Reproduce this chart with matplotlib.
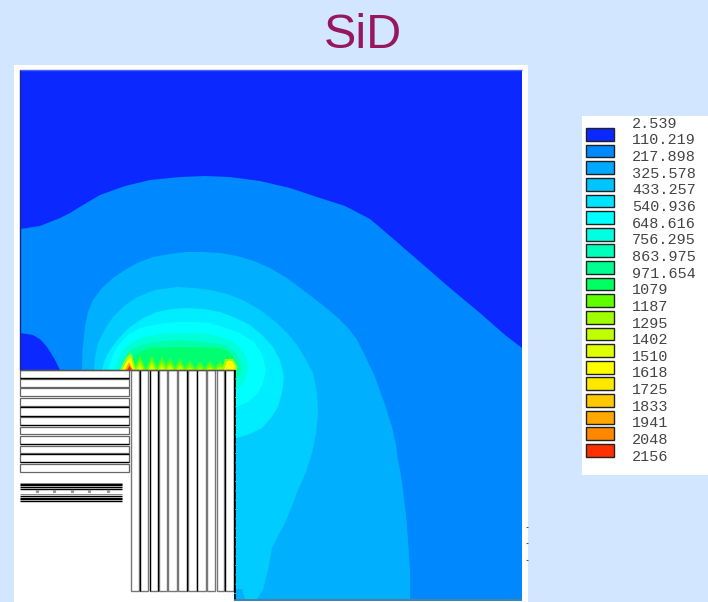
import matplotlib
matplotlib.use("Agg")
import matplotlib.pyplot as plt
from matplotlib.patches import Rectangle

levels = ["2.539", "110.219", "217.898", "325.578", "433.257", "540.936", "648.616",
          "756.295", "863.975", "971.654", "1079", "1187", "1295", "1402", "1510",
          "1618", "1725", "1833", "1941", "2048", "2156"]
level_colors = ["#0a28ff", "#0088ff", "#00a8ff", "#00c4ff", "#00e4ff", "#00ffff", "#00ffe0",
                "#00ffb8", "#00ff90", "#00ff60", "#60ff00", "#a0ff00", "#c0ff00", "#e0ff00",
                "#ffff00", "#ffe800", "#ffc800", "#ffa800", "#ff8800", "#ff3000"]

contour_1 = [(20, 229), (40, 226), (60, 218), (70, 213), (83, 205), (100, 195), (125, 186),
             (150, 180), (180, 177), (205, 176), (230, 177), (260, 181), (290, 188), (320, 198),
             (345, 206), (370, 219), (390, 236), (420, 262), (450, 288), (480, 313), (505, 335),
             (522, 348), (522, 599), (20, 599)]
lobe = [(20, 333), (33, 335), (41, 340), (47, 347), (54, 358), (60, 370), (20, 370)]
contour_2 = [(82, 370), (82.5, 350), (85, 327), (88, 312), (93, 300), (102, 288), (113, 278),
             (125, 270), (137, 263), (153, 257), (170, 254), (187, 252), (203, 252), (220, 253),
             (237, 256), (254, 261), (270, 268), (287, 278), (303, 290), (320, 303), (337, 317),
             (348, 328), (357, 340), (366, 358), (375, 377), (384, 402), (392, 427), (396, 445),
             (398, 460), (401, 475), (403, 490), (406, 515), (408, 540), (410, 570), (410, 599),
             (82, 599)]
contour_3 = [(94, 370), (95, 357), (98, 343), (105, 329), (113, 317), (124, 306), (137, 297),
             (155, 290), (177, 287), (194, 288), (210, 290), (227, 294), (243, 300), (260, 310),
             (277, 323), (288, 334), (297, 345), (305, 358), (313, 373), (317, 393), (318, 413),
             (316, 433), (312, 453), (306, 472), (298, 490), (292, 506), (285, 523), (278, 536),
             (272, 548), (268, 570), (263, 590), (257, 599), (245, 599), (242, 589), (234, 589),
             (94, 589)]
contour_4 = [(102, 370), (105, 359), (110, 350), (119, 338), (130, 327), (143, 318), (157, 312),
             (172, 309), (187, 308), (204, 309), (220, 312), (236, 318), (250, 325), (262, 335),
             (273, 347), (280, 360), (284, 377), (282, 393), (278, 407), (271, 418), (262, 428),
             (250, 434), (234, 439), (102, 439)]
contour_5 = [(108, 370), (112, 357), (117, 347), (127, 336), (140, 328), (158, 324), (177, 322),
             (194, 322), (210, 323), (226, 328), (240, 333), (254, 342), (262, 354),
             (266, 370), (263, 383), (258, 393), (248, 402), (234, 408), (108, 408)]
contour_6 = [(115, 370), (118, 359), (123, 350), (132, 342), (143, 337), (160, 334), (177, 333),
             (194, 333), (210, 334), (222, 337), (233, 342), (241, 349), (247, 358), (248, 369),
             (245, 380), (241, 386), (234, 390), (115, 390)]
contour_7 = [(122, 370), (125, 359), (130, 350), (141, 345), (155, 342), (167, 341), (180, 340),
             (203, 342), (225, 345), (234, 352), (240, 360), (241, 368), (240, 375), (234, 380),
             (122, 380)]
contour_8 = [(128, 370), (131, 361), (135, 355), (142, 351), (150, 348), (185, 347), (220, 348),
             (228, 351), (232, 355), (235, 361), (236, 368), (234, 376), (128, 376)]
contours = [contour_1, contour_2, contour_3, contour_4, contour_5, contour_6, contour_7, contour_8]
contour_colors = ["#0088ff", "#00b0ff", "#00ccff", "#00ecff", "#00ffff", "#00ffd8", "#00ffa8", "#00ff70"]

peak_x = [130, 140, 152, 162, 170, 180, 190, 200, 210, 220, 230]
peak_top = [351, 355, 355, 356, 357, 358, 360, 361, 360, 360, 357]

row_top = [370, 379, 388, 398, 407, 417, 427, 436, 446, 454, 464]
row_bot = [378, 387, 396, 406, 416, 425, 434, 444, 453, 462, 472]
row_black = [378, 406.5, 416, 425, 444, 453.5, 462]
tile_left = [131, 140, 150, 159, 168, 178, 188, 197, 207, 217, 225]
tile_right = [139, 148, 158, 167, 177, 187, 197, 206, 215, 224, 234]
tile_black = [139.5, 149.7, 158, 186.7, 196.7, 224.5, 234]
stack_black = [483.5, 485, 486.5, 488.5, 496, 497.5, 499, 500.5]
stack_grey = [482.5, 493.5]
stack_dots = [37, 54, 72, 89, 108]

fig = plt.figure(figsize=(7.08, 6.02), dpi=100, facecolor="#d2e7ff")
ax = fig.add_axes([0, 0, 1, 1])
ax.set_xlim(0, 708)
ax.set_ylim(602, 0)
ax.axis("off")

ax.text(362.5, 48, "SiD", color="#97175e", fontsize=35, family="Liberation Sans", ha="center", va="baseline")

# field
ax.add_patch(Rectangle((14, 65), 514, 537, fc="white", ec="none"))
ax.add_patch(Rectangle((20, 70), 502, 529, fc=level_colors[0], ec="none"))
for pts, col in zip(contours, contour_colors):
    ax.fill([p[0] for p in pts], [p[1] for p in pts], color=col, lw=0)
ax.fill([p[0] for p in lobe], [p[1] for p in lobe], color=level_colors[0], lw=0)

# saw teeth above the end cap
for width, lift, col in [(7, 0, "#30ff40"), (5.5, 3, "#70ff00"), (4, 7, "#b8ff00"), (2.5, 11, "#e8ff00")]:
    for x, top in zip(peak_x, peak_top):
        ax.fill([x - width, x, x + width], [370, top + lift, 370], color=col, lw=0)
ax.fill([222, 225, 233, 237, 237], [370, 359, 359, 366, 370], color="#a0ff00", lw=0)
ax.fill([224, 227, 232, 235, 234], [370, 361, 361, 366, 370], color="#ffff00", lw=0)
ax.fill([120, 126, 131, 136], [370, 358, 353, 370], color="#a0ff00", lw=0)
ax.fill([122, 127, 131, 134], [370, 361, 357, 370], color="#ffff00", lw=0)
ax.fill([125, 129, 133], [370, 362, 370], color="#ffa800", lw=0)
ax.fill([127, 129.5, 132], [370, 365.5, 370], color="#ff3000", lw=0)

# detector
ax.add_patch(Rectangle((14, 370), 220, 232, fc="white", ec="none"))
for top, bot in zip(row_top, row_bot):
    ax.add_patch(Rectangle((20, top), 109, bot - top, fc="white", ec="#666666", lw=0.9))
ax.hlines(row_black, 20, 129, color="black", lw=0.9)
for left, right in zip(tile_left, tile_right):
    ax.add_patch(Rectangle((left, 370), right - left, 221, fc="white", ec="#777777", lw=1.0))
ax.vlines(tile_black, 370, 591, color="black", lw=0.9)
ax.hlines(stack_black, 20, 122, color="black", lw=1.0)
ax.hlines(stack_grey, 20, 122, color="#888888", lw=0.7)
ax.plot(stack_dots, [491] * len(stack_dots), "s", color="#999999", ms=1.3)
ax.hlines(370, 20, 234, color="#555555", lw=1.0)

# frame
ax.vlines(234.5, 370, 600, color="black", lw=1.2, linestyles=(0, (5, 0.6)))
ax.vlines(19.5, 70, 370, color="#1a2a80", lw=1.0)
ax.hlines(70, 20, 522, color="#4a62ff", lw=1.0)
ax.hlines(599.5, 234, 522, color="#1c6c9c", lw=1.2)
ax.hlines([527, 543, 560], 526, 528, color="#555555", lw=0.8)

# legend
ax.add_patch(Rectangle((582, 116), 126, 359, fc="white", ec="none"))
for i, col in enumerate(level_colors):
    ax.add_patch(Rectangle((585.5, 128 + i * 16.63), 28, 12.8, fc=col, ec="#222222", lw=1.0))
for i, lab in enumerate(levels):
    ax.text(632, 123.7 + i * 16.65, lab, fontsize=10.9, family="Liberation Mono", color="#444444",
            va="center", ha="left")

fig.savefig("out.png", dpi=100, facecolor=fig.get_facecolor())
